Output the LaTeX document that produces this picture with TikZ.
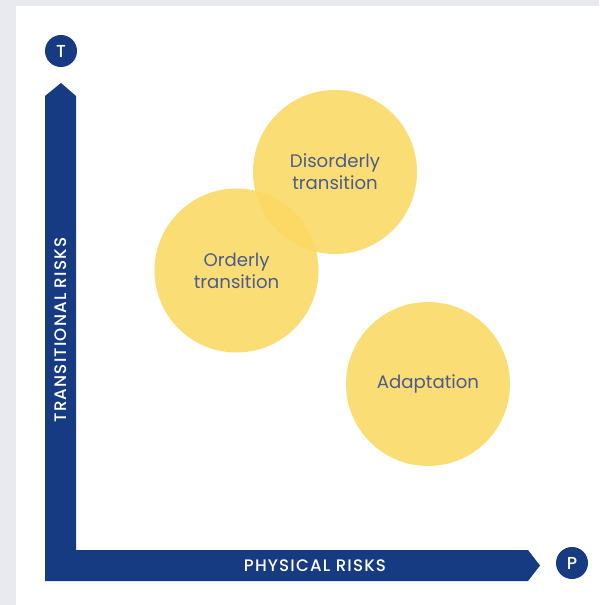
\documentclass[tikz,border=0pt]{standalone}
\usepackage{fontspec}
\setmainfont{Poppins}
\newfontfamily\axisfont[LetterSpace=7]{Poppins Medium}
\newfontfamily\tagfont{Poppins Medium}
\definecolor{axisblue}{HTML}{163B82}
\definecolor{bubble}{HTML}{FBD962}
\definecolor{labeltext}{HTML}{4B5B8A}
\definecolor{pagegrey}{HTML}{E9EAEF}

\begin{document}
\begin{tikzpicture}[
  x=0.75pt, y=-0.75pt,
  scenario/.style={
    circle, fill=bubble, fill opacity=0.88, text opacity=1,
    minimum size=123pt, inner sep=0pt,
    font=\fontsize{13.6}{16.5}\selectfont, text=labeltext, align=center
  },
  axistag/.style={
    circle, fill=axisblue, minimum size=24pt, inner sep=0pt,
    font=\tagfont\fontsize{13}{13}\selectfont, text=white
  },
  axislbl/.style={font=\axisfont\fontsize{12.5}{12.5}\selectfont, text=white, inner sep=0pt},
]

\useasboundingbox (0,0) rectangle (599,605);
\fill[pagegrey] (0,0) rectangle (599,605);
\fill[white] (16,6) rectangle (599,605);

% axes
\fill[axisblue] (45,581) -- (45,96) -- (61,83) -- (76,96) -- (76,550)
  -- (528,550) -- (540,565.5) -- (528,581) -- cycle;

\node[axistag] (tagT) at (61,51) {T};
\node[axistag] (tagP) at (572,563) {P};

\node[axislbl, rotate=90] (transrisk) at (61,330) {TRANSITIONAL RISKS};
\node[axislbl] (physrisk) at (315,565.5) {PHYSICAL RISKS};

% scenarios
\node[scenario] (disorderly) at (335,172) {Disorderly\\transition};
\node[scenario] (orderly)    at (236.5,270.5) {Orderly\\transition};
\node[scenario] (adaptation) at (428,384) {Adaptation};

\end{tikzpicture}
\end{document}
